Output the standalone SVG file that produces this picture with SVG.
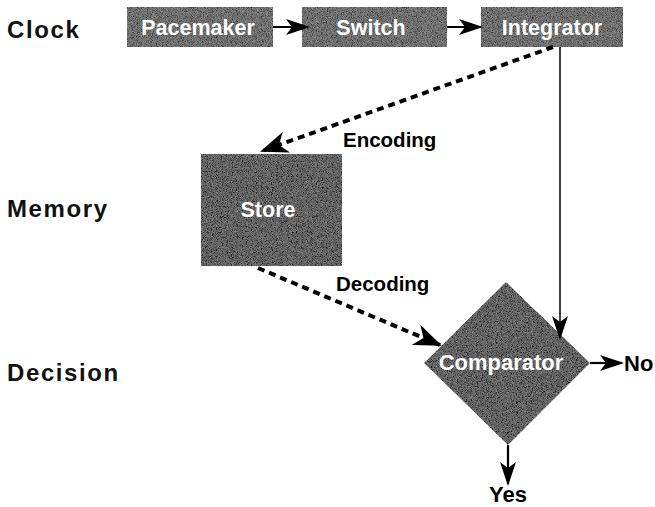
<svg xmlns="http://www.w3.org/2000/svg" width="655" height="507" viewBox="0 0 655 507">
  <style>
    .row { font-family: "Liberation Sans", Arial, sans-serif; font-weight: bold; font-size: 24px; letter-spacing: 1.6px; fill: #111; }
    .lbl { font-family: "Liberation Sans", Arial, sans-serif; font-weight: bold; font-size: 21.5px; fill: #fff; text-anchor: middle; }
    .edge-lbl { font-family: "Liberation Sans", Arial, sans-serif; font-weight: bold; font-size: 20.5px; fill: #000; }
    .out-lbl { font-family: "Liberation Sans", Arial, sans-serif; font-weight: bold; font-size: 22px; fill: #000; }
    .box { fill: #6e6e6e; filter: url(#grain); }
    .dark { fill: #626262; filter: url(#grain); }
    .solid { stroke: #000; stroke-width: 2.2; fill: none; }
    .thin { stroke: #000; stroke-width: 1.5; fill: none; }
    .dash { stroke: #000; stroke-width: 4; stroke-dasharray: 7 5; fill: none; }
  </style>
  <defs>
    <!-- halftone-like grain for the shaded shapes -->
    <filter id="grain" x="0" y="0" width="1" height="1">
      <feTurbulence type="fractalNoise" baseFrequency="1.2" numOctaves="1" seed="4" result="n"/>
      <feColorMatrix in="n" type="matrix" values="1 0 0 0 0  1 0 0 0 0  1 0 0 0 0  0 0 0 0 1" result="g"/>
      <feComposite in="SourceGraphic" in2="g" operator="arithmetic" k1="0" k2="1" k3="0.5" k4="-0.25" result="mix"/>
      <feComposite in="mix" in2="SourceAlpha" operator="in"/>
    </filter>
    <marker id="head" viewBox="0 0 24 16" refX="22" refY="8" markerWidth="24" markerHeight="16" markerUnits="userSpaceOnUse" orient="auto">
      <path d="M0,0 L24,8 L0,16 L6,8 Z" fill="#000"/>
    </marker>
    <marker id="bighead" viewBox="0 0 28 22" refX="26" refY="11" markerWidth="28" markerHeight="22" markerUnits="userSpaceOnUse" orient="auto">
      <path d="M0,0 L28,11 L0,22 L8,11 Z" fill="#000"/>
    </marker>
  </defs>

  <rect width="655" height="507" fill="#fff"/>

  <!-- row captions -->
  <text class="row" x="7" y="38">Clock</text>
  <text class="row" x="7" y="217">Memory</text>
  <text class="row" x="7" y="381">Decision</text>

  <g id="pacemaker">
    <rect class="box" x="127" y="7" width="146" height="40"/>
    <text class="lbl" x="198" y="35">Pacemaker</text>
  </g>
  <g id="switch">
    <rect class="box" x="302" y="7" width="145" height="40"/>
    <text class="lbl" x="371" y="35">Switch</text>
  </g>
  <g id="integrator">
    <rect class="box" x="481" y="7" width="142" height="40"/>
    <text class="lbl" x="552" y="35">Integrator</text>
  </g>
  <g id="store">
    <rect class="dark" x="201" y="154" width="141" height="112"/>
    <text class="lbl" x="268" y="217">Store</text>
  </g>
  <g id="comparator">
    <polygon class="dark" points="506,282 590,363 508,445 424,363"/>
    <text class="lbl" x="501" y="370" style="font-size:22px">Comparator</text>
  </g>

  <g id="connectors">
    <line class="solid" x1="273" y1="27" x2="308" y2="27" marker-end="url(#head)"/>
    <line class="solid" x1="447" y1="27" x2="481" y2="27" marker-end="url(#head)"/>
    <line class="thin" x1="560" y1="47" x2="560" y2="338" marker-end="url(#head)"/>
    <line class="dash" x1="553" y1="47" x2="262" y2="151" marker-end="url(#bighead)"/>
    <line class="dash" x1="258" y1="268" x2="440" y2="345" marker-end="url(#bighead)"/>
    <line class="solid" x1="590" y1="363" x2="622" y2="363" marker-end="url(#head)"/>
    <line class="solid" x1="508" y1="445" x2="508" y2="484" marker-end="url(#head)"/>
  </g>

  <!-- connector labels -->
  <text class="edge-lbl" x="343" y="147">Encoding</text>
  <text class="edge-lbl" x="336" y="291">Decoding</text>
  <text class="out-lbl" x="624" y="371">No</text>
  <text class="out-lbl" x="489" y="502">Yes</text>
</svg>
